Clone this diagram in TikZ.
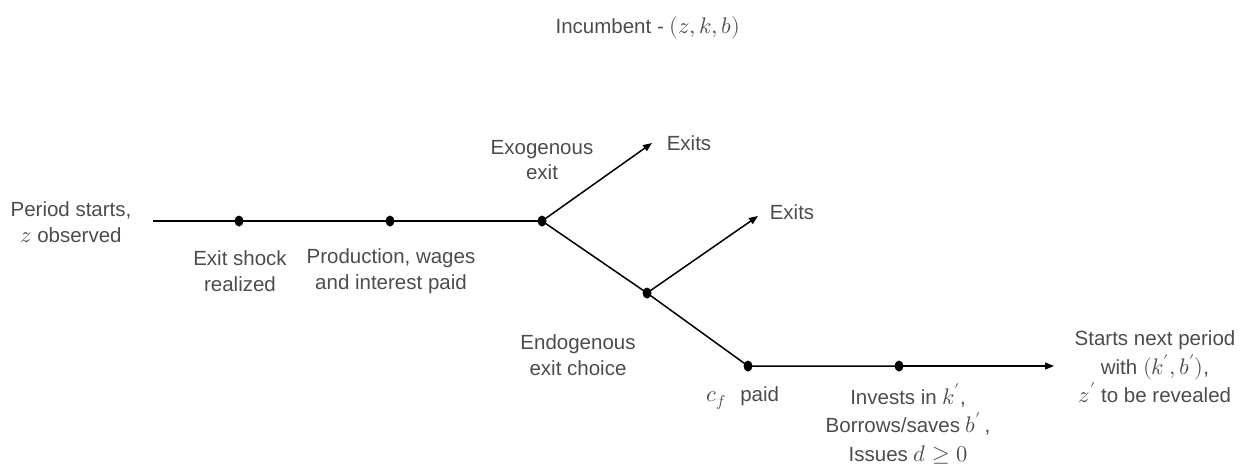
\documentclass[tikz,border=0pt]{standalone}
\usepackage{fontspec}
\usepackage{unicode-math}
\setmainfont{Liberation Sans}
\setmathfont[Scale=1.1]{Latin Modern Math}
\usetikzlibrary{arrows.meta,shapes.geometric}
\begin{document}
\begin{tikzpicture}[x=1pt,y=-1pt,
  lbl/.style={text=black!70,align=center,inner sep=0pt,font=\fontsize{20.5}{25.5}\selectfont},
  lbl3/.style={lbl,font=\fontsize{20.5}{28.5}\selectfont},
  dot/.style={ellipse,fill=black,inner sep=0pt,minimum width=9pt,minimum height=11pt},
  seg/.style={line width=1.5pt},
  arr/.style={seg,-{Triangle[length=9pt,width=7pt]}}]
\useasboundingbox (0,0) rectangle (1241,464);
% nodes on timeline
\coordinate (s0) at (153,221);
\node[dot] (d1) at (239,221) {};
\node[dot] (d2) at (390,221) {};
\node[dot] (d3) at (542,221) {};
\node[dot] (d4) at (647,293) {};
\node[dot] (d5) at (748,366) {};
\node[dot] (d6) at (899,366) {};
\coordinate (e1) at (652,143);
\coordinate (e2) at (758,216);
\coordinate (e3) at (1054,366);
% connectors
\draw[seg] (s0) -- (d1.center) -- (d2.center) -- (d3.center);
\draw[arr] (d3.center) -- (e1);
\draw[seg] (d3.center) -- (d4.center);
\draw[arr] (d4.center) -- (e2);
\draw[seg] (d4.center) -- (d5.center) -- (d6.center);
\draw[arr] (d6.center) -- (e3);
% labels
\node[lbl] (title) at (648,28) {Incumbent - $(z,k,b)$};
\node[lbl] (start) at (71,222) {Period starts,\\ $z$ observed};
\node[lbl] (shock) at (240,271) {Exit shock\\ realized};
\node[lbl] (prod) at (391,271) {Production, wages\\ and interest paid};
\node[lbl] (exo) at (542,160) {Exogenous\\ exit};
\node[lbl] (exits1) at (689,143) {Exits};
\node[lbl] (exits2) at (792,212) {Exits};
\node[lbl] (endo) at (578,355) {Endogenous\\ exit choice};
\node[lbl] (cf) at (743,398) {$c_f$\hspace{14pt}paid};
\node[lbl3] (invest) at (908,424) {Invests in $k'$,\\ Borrows/saves $b'$\,,\\ Issues $d\geq 0$};
\node[lbl3] (next) at (1155,367) {Starts next period\\ with $(k',b')$,\\ $z'$ to be revealed};
\end{tikzpicture}
\end{document}
